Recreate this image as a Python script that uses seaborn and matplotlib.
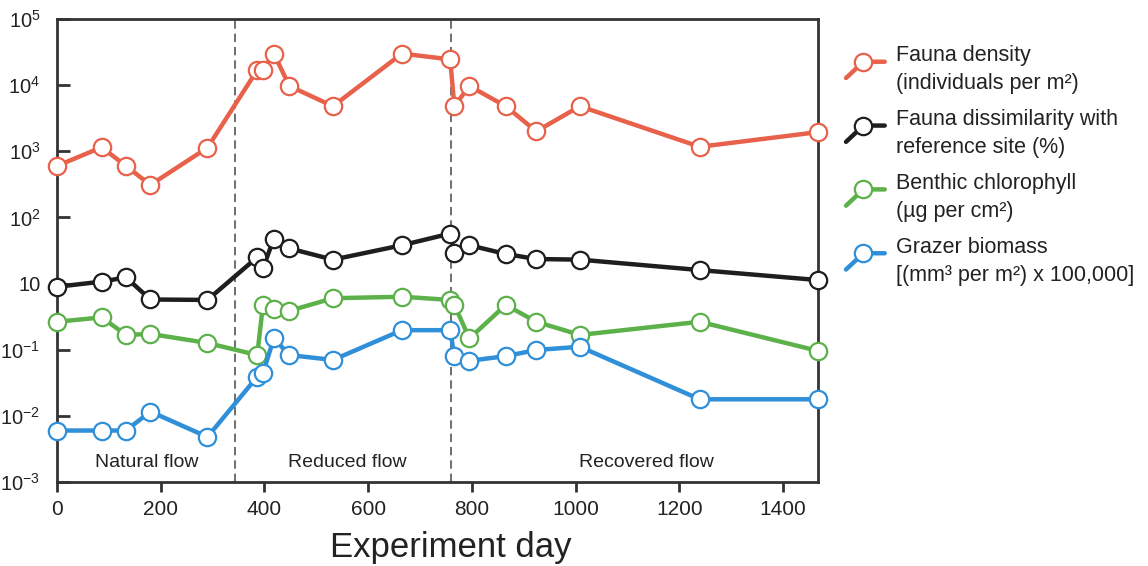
import numpy as np
import pandas as pd
import matplotlib
matplotlib.use("Agg")
import matplotlib.pyplot as plt
import seaborn as sns
from matplotlib.lines import Line2D
from matplotlib.legend_handler import HandlerLine2D

# Data
days = [0, 86, 133, 180, 290, 386, 397, 418, 448, 532, 665, 758, 766, 795, 865, 924, 1008, 1239, 1467]
fauna_density = [600, 1150, 600, 310, 1130, 16900, 17000, 30000, 9700, 4800, 30000, 24500,
                 4800, 9700, 4800, 2000, 4800, 1170, 1950]
dissimilarity = [8.0, 10.7, 12.4, 3.3, 3.2, 25, 17, 48, 34, 23, 38, 57,
                 29, 38, 28, 23.5, 23, 16, 11.3]
chlorophyll = [0.70, 0.95, 0.28, 0.30, 0.16, 0.083, 2.25, 1.66, 1.5, 3.6, 4.0, 3.2,
               2.25, 0.22, 2.25, 0.70, 0.28, 0.70, 0.096]
grazer = [0.006, 0.006, 0.006, 0.0116, 0.0048, 0.039, 0.044, 0.22, 0.083, 0.07, 0.39, 0.39,
          0.08, 0.068, 0.08, 0.099, 0.123, 0.0178, 0.0178]

series_labels = [
    "Fauna density\n(individuals per m\u00b2)",
    "Fauna dissimilarity with\nreference site (%)",
    "Benthic chlorophyll\n(\u00b5g per cm\u00b2)",
    "Grazer biomass\n[(mm\u00b3 per m\u00b2) x 100,000]",
]
series_colors = ["#E8624B", "#1E1E1E", "#5DB14A", "#2F8FD8"]

phase_bounds = [343, 759]
phase_names = ["Natural flow", "Reduced flow", "Recovered flow"]
phase_label_x = [173, 559, 1136]

ytick_vals = [1e5, 1e4, 1e3, 1e2, 10, 0.1, 0.01, 0.001]
ytick_labels = [r"$\mathregular{10^{5}}$", r"$\mathregular{10^{4}}$", r"$\mathregular{10^{3}}$",
                r"$\mathregular{10^{2}}$", "10", r"$\mathregular{10^{-1}}$",
                r"$\mathregular{10^{-2}}$", r"$\mathregular{10^{-3}}$"]
xticks = [0, 200, 400, 600, 800, 1000, 1200, 1400]

sns.set_style("white")
plt.rcParams["font.family"] = ["Liberation Sans", "DejaVu Sans"]
plt.rcParams["mathtext.fontset"] = "custom"
plt.rcParams["mathtext.rm"] = "Liberation Sans"
plt.rcParams["mathtext.it"] = "Liberation Sans:italic"
plt.rcParams["text.color"] = "#222222"


# the original axis skips the "1" decade, so squeeze 10..0.1 into one step
def fwd(v):
    with np.errstate(divide="ignore", invalid="ignore"):
        l = np.log10(np.maximum(np.asarray(v, dtype=float), 1e-300))
    return np.where(l >= 1, l, np.where(l <= -1, l + 1, (l + 1) / 2))


def inv(p):
    p = np.asarray(p, dtype=float)
    l = np.where(p >= 1, p, np.where(p <= 0, p - 1, 2 * p - 1))
    return 10 ** l


class SlantHandler(HandlerLine2D):
    def create_artists(self, legend, orig_handle, xdescent, ydescent, width, height, fontsize, trans):
        xc = -xdescent + width * 0.45
        yc = -ydescent + height / 2 + 6
        ln = Line2D([-xdescent, xc, -xdescent + width], [yc - width * 0.42, yc, yc])
        self.update_prop(ln, orig_handle, legend)
        ln.set_markevery([1])
        ln.set_transform(trans)
        return [ln]


df = pd.DataFrame({"day": days, "density": fauna_density, "dissim": dissimilarity,
                   "chl": chlorophyll, "grazer": grazer})

fig = plt.figure(figsize=(11.48, 5.66), dpi=100)
ax = fig.add_axes([57 / 1148, 84 / 566, 761 / 1148, 463 / 566])

handles = []
for col, lab, c in zip(["density", "dissim", "chl", "grazer"], series_labels, series_colors):
    sns.lineplot(data=df, x="day", y=col, ax=ax, color=c, linewidth=3.2, estimator=None, sort=False,
                 marker="o", markersize=12.5, markerfacecolor="white", markeredgecolor=c,
                 markeredgewidth=1.6, clip_on=False, zorder=3)
    handles.append(Line2D([], [], color=c, linewidth=3.2, marker="o", markersize=12.5,
                          markerfacecolor="white", markeredgecolor=c, markeredgewidth=1.6, label=lab))

for b in phase_bounds:
    ax.axvline(b, color="#555555", linestyle=(0, (5, 3)), linewidth=1.2, zorder=1)

ax.set_yscale("function", functions=(fwd, inv))
ax.set_ylim(0.001, 1e5)
ax.set_xlim(0, 1467)
ax.set_yticks(ytick_vals, ytick_labels)
ax.set_xticks(xticks)
ax.minorticks_off()

for name, x in zip(phase_names, phase_label_x):
    ax.text(x, 0.043, name, transform=ax.get_xaxis_transform(), ha="center", va="center",
            fontsize=14, color="#222222")

ax.set_xlabel("Experiment day", fontsize=25, color="#222222")
ax.xaxis.set_label_coords(0.518, -0.105)
ax.set_ylabel("")

for s in ax.spines.values():
    s.set_color("#333333")
    s.set_linewidth(2)
ax.tick_params(axis="y", direction="in", length=9, width=2, color="#333333", labelsize=14.5,
               pad=12, labelcolor="#222222", left=True)
ax.tick_params(axis="x", direction="out", length=7, width=2, color="#333333", labelsize=15,
               pad=6, labelcolor="#222222", bottom=True)

leg = fig.legend(handles=handles, loc="upper left", bbox_to_anchor=(846 / 1148, 1 - 45 / 566),
                 frameon=False, fontsize=15.5, handlelength=1.8, handletextpad=0.5,
                 labelspacing=0.68, borderpad=0, borderaxespad=0,
                 handler_map={Line2D: SlantHandler()})
for t in leg.get_texts():
    t.set_color("#222222")
    t.set_linespacing(1.45)

fig.savefig("out.png", dpi=100)
